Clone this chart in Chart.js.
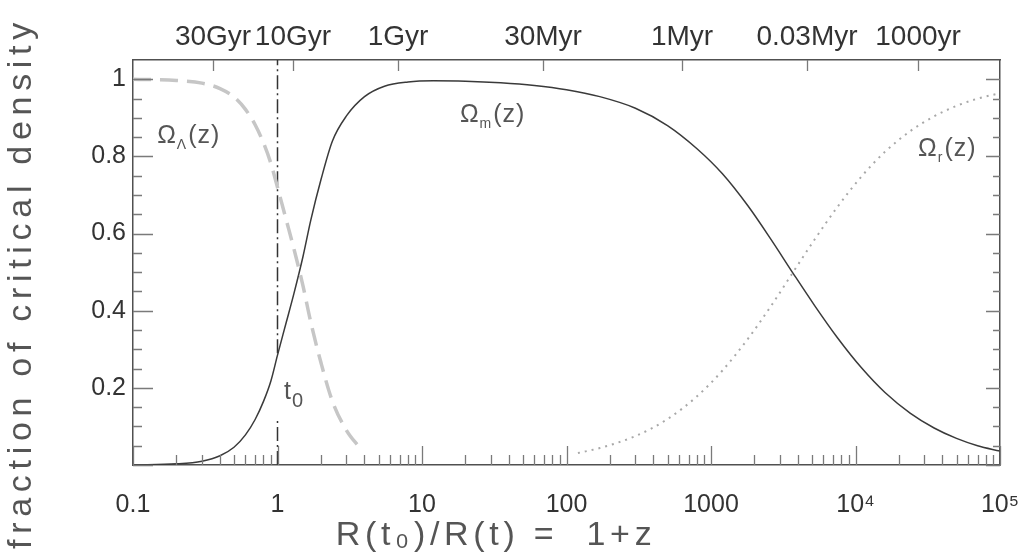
<!DOCTYPE html>
<html>
<head>
<meta charset="utf-8">
<script src="https://cdn.jsdelivr.net/npm/chart.js@4.4.1/dist/chart.umd.min.js"></script>
<style>
  html, body { margin: 0; padding: 0; background: #ffffff; }
  #c { display: block; }
</style>
</head>
<body>
<canvas id="c" width="1027" height="559"></canvas>
<script>
// ---- data ----
const lambdaX = [0.1,0.2,0.3,0.4,0.5,0.6,0.7,0.8,0.9,1.0,1.15,1.3,1.5,1.7,2.0,2.4,3.0,3.7];
const lambdaY = [1.0,0.997,0.99,0.976,0.954,0.922,0.882,0.835,0.782,0.72,0.635,0.56,0.465,0.37,0.265,0.165,0.09,0.045];

const matterX = [0.1,0.2,0.3,0.4,0.5,0.6,0.7,0.8,0.9,1.0,1.15,1.3,1.5,1.7,2.0,2.4,3.0,4.0,5.5,8,12,20,35,60,100,170,300,500,800,1200,1800,2600,3700,5200,7500,11000,16000,24000,35000,50000,70000,100000];
const matterY = [0.0,0.003,0.01,0.024,0.046,0.078,0.118,0.165,0.218,0.285,0.37,0.445,0.54,0.635,0.74,0.84,0.905,0.955,0.982,0.993,0.996,0.995,0.991,0.984,0.973,0.955,0.925,0.88,0.82,0.755,0.672,0.585,0.497,0.414,0.33,0.252,0.188,0.134,0.096,0.069,0.05,0.036];

const radX = [120,170,300,500,800,1200,1800,2600,3700,5200,7500,11000,16000,24000,35000,50000,70000,100000];
const radY = [0.031,0.044,0.075,0.119,0.178,0.245,0.327,0.412,0.5,0.584,0.669,0.748,0.812,0.866,0.904,0.931,0.95,0.964];

// present-day marker (1+z = 1), broken where the t0 label sits
const nowX = [1, 1, 1, 1, 1];
const nowY = [0, 0.12, null, 0.29, 1.05];

// tick labels
const xTickVals = [0.1, 1, 10, 100, 1000, 10000, 100000];
const xTickLabels = ['0.1', '1', '10', '100', '1000', '10⁴', '10⁵'];
const xMantissas = [1,2,3,4,5,6,7,8,9];
const topTickVals = [0.358, 1.28, 6.82, 68.8, 630, 4615, 27100];
const topTickLabels = ['30Gyr', '10Gyr', '1Gyr', '30Myr', '1Myr', '0.03Myr', '1000yr'];
const yTickVals = [0.2, 0.4, 0.6, 0.8, 1.0];
const yTickLabels = ['0.2', '0.4', '0.6', '0.8', '1'];
const yAllTicks = [0,0.05,0.1,0.15,0.2,0.25,0.3,0.35,0.4,0.45,0.5,0.55,0.6,0.65,0.7,0.75,0.8,0.85,0.9,0.95,1.0];

const xTitle = 'R(t₀)/R(t) =  1+z';
const yTitle = 'fraction of critical density';

// curve annotations: [symbol, subscript, tail, x, y]
const curveNotes = [
  ['Ω', 'Λ', '(z)', 0.147, 0.835],
  ['Ω', 'm', '(z)', 18.3, 0.89],
  ['Ω', 'r', '(z)', 27100, 0.8]
];
const nowNote = ['t', '0', 1.11, 0.155];

const zip = (xs, ys) => xs.map((v, i) => ({x: v, y: ys[i]}));
const isDecade = v => Math.abs(Math.log10(v) - Math.round(Math.log10(v))) < 1e-6;
const findLabel = (vals, labels, v, log) => {
  for (let i = 0; i < vals.length; i++) {
    const d = log ? Math.abs(Math.log10(v) - Math.log10(vals[i])) : Math.abs(v - vals[i]);
    if (d < 1e-6) return labels[i];
  }
  return '';
};

const FONT = '"Liberation Sans", Arial, sans-serif';

// inward tick marks on all four sides, positioned by the chart's scales
const frameTicks = {
  id: 'frameTicks',
  afterDatasetsDraw(chart) {
    const {ctx, chartArea: a} = chart;
    const x = chart.scales.x, x2 = chart.scales.x2, y = chart.scales.y;
    ctx.save();
    ctx.strokeStyle = '#7a7a7a';
    ctx.lineWidth = 1.3;
    ctx.beginPath();
    x.ticks.forEach(t => {
      const p = Math.round(x.getPixelForValue(t.value)) + 0.5;
      const len = isDecade(t.value) ? 19 : 10;
      ctx.moveTo(p, a.bottom); ctx.lineTo(p, a.bottom - len);
    });
    x2.ticks.forEach(t => {
      const p = Math.round(x2.getPixelForValue(t.value)) + 0.5;
      ctx.moveTo(p, a.top); ctx.lineTo(p, a.top + 11);
    });
    y.ticks.forEach(t => {
      const p = Math.round(y.getPixelForValue(t.value)) + 0.5;
      const major = Math.abs(t.value * 5 - Math.round(t.value * 5)) < 1e-6;
      ctx.moveTo(a.left, p); ctx.lineTo(a.left + (major ? 20 : 9), p);
      ctx.moveTo(a.right, p); ctx.lineTo(a.right - (major ? 14 : 7), p);
    });
    ctx.stroke();
    ctx.restore();
  }
};

// axis titles and curve labels
const textLayer = {
  id: 'textLayer',
  afterDraw(chart) {
    const {ctx} = chart;
    const x = chart.scales.x, y = chart.scales.y;
    ctx.save();
    ctx.fillStyle = '#555';
    ctx.textAlign = 'center';
    ctx.textBaseline = 'middle';
    ctx.font = '34px ' + FONT;
    if ('letterSpacing' in ctx) ctx.letterSpacing = '5.7px';
    ctx.save();
    ctx.translate(22, 283);
    ctx.rotate(-Math.PI / 2);
    ctx.fillText(yTitle, 0, 0);
    ctx.restore();
    ctx.font = '34px ' + FONT;
    if ('letterSpacing' in ctx) ctx.letterSpacing = '4.7px';
    ctx.fillText(xTitle, 496, 536);
    if ('letterSpacing' in ctx) ctx.letterSpacing = '1px';

    ctx.textAlign = 'left';
    ctx.textBaseline = 'alphabetic';
    ctx.fillStyle = '#555';
    curveNotes.forEach(([sym, sub, tail, xv, yv]) => {
      let px = x.getPixelForValue(xv);
      const py = y.getPixelForValue(yv);
      ctx.font = '25px ' + FONT;
      ctx.fillText(sym, px, py);
      px += ctx.measureText(sym).width;
      ctx.font = '14px ' + FONT;
      ctx.fillText(sub, px, py + 6);
      px += ctx.measureText(sub).width + 1;
      ctx.font = '25px ' + FONT;
      ctx.fillText(tail, px, py);
    });
    {
      const [sym, sub, xv, yv] = nowNote;
      let px = x.getPixelForValue(xv);
      const py = y.getPixelForValue(yv);
      ctx.font = '25px ' + FONT;
      ctx.fillText(sym, px, py - 6);
      px += ctx.measureText(sym).width;
      ctx.font = '20px ' + FONT;
      ctx.fillText(sub, px, py + 2);
    }
    ctx.restore();
  }
};

const tickFont = {family: FONT, size: 25};
const noPad = s => { s.paddingLeft = 0; s.paddingRight = 0; s.paddingTop = 0; s.paddingBottom = 0; };

new Chart(document.getElementById('c'), {
  type: 'line',
  data: {
    datasets: [
      {
        label: 'Ω_Λ(z)',
        data: zip(lambdaX, lambdaY),
        borderColor: '#c6c6c6',
        borderWidth: 3.5,
        borderDash: [18, 9],
        pointRadius: 0,
        cubicInterpolationMode: 'monotone',
        xAxisID: 'x', yAxisID: 'y'
      },
      {
        label: 'Ω_r(z)',
        data: zip(radX, radY),
        borderColor: '#a8a8a8',
        borderWidth: 2,
        borderDash: [2, 5],
        pointRadius: 0,
        cubicInterpolationMode: 'monotone',
        xAxisID: 'x', yAxisID: 'y'
      },
      {
        label: 'Ω_m(z)',
        data: zip(matterX, matterY),
        borderColor: '#3a3a3a',
        borderWidth: 1.5,
        pointRadius: 0,
        cubicInterpolationMode: 'monotone',
        xAxisID: 'x', yAxisID: 'y'
      },
      {
        label: 't0',
        data: zip(nowX, nowY),
        borderColor: '#333',
        borderWidth: 1.5,
        borderDash: [14, 4, 2, 4],
        pointRadius: 0,
        spanGaps: false,
        xAxisID: 'x', yAxisID: 'y'
      }
    ]
  },
  options: {
    responsive: false,
    animation: false,
    devicePixelRatio: 1,
    layout: {padding: 0},
    plugins: {legend: {display: false}, tooltip: {enabled: false}},
    scales: {
      x: {
        type: 'logarithmic',
        position: 'bottom',
        min: 0.1, max: 100000,
        afterBuildTicks: s => {
          const t = [];
          xTickVals.slice(0, -1).forEach(d => xMantissas.forEach(m => t.push({value: +(d * m).toPrecision(6)})));
          t.push({value: xTickVals[xTickVals.length - 1]});
          s.ticks = t;
        },
        afterFit: s => { s.height = 94; noPad(s); },
        grid: {display: false, drawTicks: false},
        border: {display: true, color: '#505050', width: 1.5},
        ticks: {
          autoSkip: false, maxRotation: 0, minRotation: 0,
          padding: 25, color: '#333', font: tickFont,
          callback: v => findLabel(xTickVals, xTickLabels, v, true)
        }
      },
      x2: {
        type: 'logarithmic',
        position: 'top',
        min: 0.1, max: 100000,
        afterBuildTicks: s => { s.ticks = topTickVals.map(v => ({value: v})); },
        afterFit: s => { s.height = 60; noPad(s); },
        grid: {display: false, drawTicks: false},
        border: {display: true, color: '#505050', width: 1.5},
        ticks: {
          autoSkip: false, maxRotation: 0, minRotation: 0,
          padding: 6, color: '#333', font: {family: FONT, size: 28},
          callback: v => findLabel(topTickVals, topTickLabels, v, true)
        }
      },
      y: {
        type: 'linear',
        position: 'left',
        min: 0, max: 1.05,
        afterBuildTicks: s => { s.ticks = yAllTicks.map(v => ({value: v})); },
        afterFit: s => { s.width = 133; noPad(s); },
        grid: {display: false, drawTicks: false},
        border: {display: true, color: '#505050', width: 1.5},
        ticks: {
          autoSkip: false, padding: 7, color: '#333', font: tickFont,
          callback: v => findLabel(yTickVals, yTickLabels, v, false)
        }
      },
      y2: {
        type: 'linear',
        position: 'right',
        min: 0, max: 1.05,
        afterFit: s => { s.width = 27; noPad(s); },
        grid: {display: false, drawTicks: false},
        border: {display: true, color: '#505050', width: 1.5},
        ticks: {display: false}
      }
    }
  },
  plugins: [frameTicks, textLayer]
});
</script>
</body>
</html>
